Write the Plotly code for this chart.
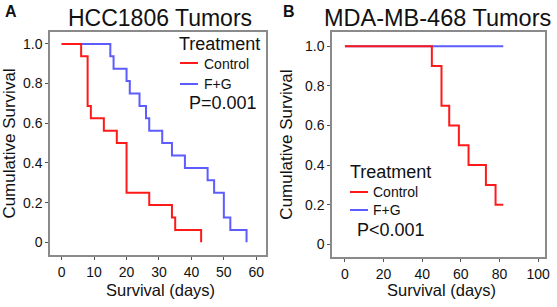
import plotly.graph_objects as go

# Panel A: HCC1806 (n=16 per group)
a_ctrl_days = [0, 6, 8, 9, 13, 17, 20, 27, 34, 35, 43]
a_ctrl_surv = [1.0, 15/16, 11/16, 10/16, 9/16, 8/16, 4/16, 3/16, 2/16, 1/16, 0.0]
a_fg_days = [0, 15, 16, 20, 21, 24, 26, 27, 31, 34, 38, 45, 47, 50, 52, 57]
a_fg_surv = [1.0, 15/16, 14/16, 13/16, 12/16, 11/16, 10/16, 9/16, 8/16, 7/16, 6/16,
             5/16, 4/16, 2/16, 1/16, 0.0]

# Panel B: MDA-MB-468
b_ctrl_days = [0, 45, 50, 54, 59, 64, 73, 78, 82]
b_ctrl_surv = [1.0, 0.9, 0.7, 0.6, 0.5, 0.4, 0.3, 0.2, 0.2]
b_fg_days = [0, 82]
b_fg_surv = [1.0, 1.0]

y_tickvals = [0, 0.2, 0.4, 0.6, 0.8, 1.0]
y_ticktext = ["0", "0.2", "0.4", "0.6", "0.8", "1.0"]
a_xticks = [0, 10, 20, 30, 40, 50, 60]
b_xticks = [0, 20, 40, 60, 80, 100]

RED = "#ff1a1a"
BLUE = "#5c5cff"
W, H = 557, 307
FONT = "Liberation Sans, Arial, sans-serif"

def px(x):
    return x / W

def py(y):
    return 1 - y / H

fig = go.Figure()
fig.add_trace(go.Scatter(x=a_fg_days, y=a_fg_surv, mode="lines", line=dict(color=BLUE, width=2, shape="hv"),
                         xaxis="x", yaxis="y", showlegend=False))
fig.add_trace(go.Scatter(x=a_ctrl_days, y=a_ctrl_surv, mode="lines", line=dict(color=RED, width=2, shape="hv"),
                         xaxis="x", yaxis="y", showlegend=False))
fig.add_trace(go.Scatter(x=b_fg_days, y=b_fg_surv, mode="lines", line=dict(color=BLUE, width=2, shape="hv"),
                         xaxis="x2", yaxis="y2", showlegend=False))
fig.add_trace(go.Scatter(x=b_ctrl_days, y=b_ctrl_surv, mode="lines", line=dict(color=RED, width=2, shape="hv"),
                         xaxis="x2", yaxis="y2", showlegend=False))

axis_common = dict(showgrid=False, zeroline=False, showline=True, linecolor="#8a8a8a", linewidth=1.5,
                   mirror=True, ticks="outside", ticklen=3, tickcolor="#555", tickwidth=1, automargin=False,
                   tickfont=dict(size=14, color="#111", family=FONT))

fig.update_layout(
    width=W, height=H, margin=dict(l=0, r=0, t=0, b=0, pad=0, autoexpand=False),
    paper_bgcolor="white", plot_bgcolor="white",
    font=dict(family=FONT, color="#111"),
    xaxis=dict(domain=[px(50), px(266)], range=[-3.6, 63], tickvals=a_xticks, anchor="y", **axis_common),
    yaxis=dict(domain=[py(255), py(32)], range=[-0.064, 1.06], tickvals=y_tickvals, ticktext=y_ticktext,
               anchor="x", title=dict(text="Cumulative Survival", font=dict(size=17), standoff=8), **axis_common),
    xaxis2=dict(domain=[px(332), px(545)], range=[-6.7, 103.6], tickvals=b_xticks, anchor="y2", **axis_common),
    yaxis2=dict(domain=[py(257), py(32)], range=[-0.064, 1.072], tickvals=y_tickvals, ticktext=y_ticktext,
                anchor="x2", title=dict(text="Cumulative Survival", font=dict(size=17), standoff=8), **axis_common),
)

def ann(text, x, y, size, xanchor="left", bold=False):
    fig.add_annotation(text=f"<b>{text}</b>" if bold else text, x=px(x), y=py(y), xref="paper", yref="paper",
                       showarrow=False, xanchor=xanchor, yanchor="middle",
                       font=dict(size=size, color="#111", family=FONT))

def legline(x0, x1, y, color):
    fig.add_shape(type="line", x0=px(x0), x1=px(x1), y0=py(y), y1=py(y), xref="paper", yref="paper",
                  line=dict(color=color, width=2))

# panel letters and titles
ann("A", 3, 11, 16, bold=True)
ann("B", 281, 11, 16, bold=True)
ann("HCC1806 Tumors", 160, 18, 23, xanchor="center")
ann("MDA-MB-468 Tumors", 437, 18, 23.5, xanchor="center")

# x-axis titles
ann("Survival (days)", 160, 290, 16.5, xanchor="center")
ann("Survival (days)", 441, 290, 16.5, xanchor="center")

# legend A
ann("Treatment", 177, 44, 18)
legline(180, 198, 63, RED)
ann("Control", 202, 64, 14)
legline(180, 198, 84, BLUE)
ann("F+G", 202, 84, 14)
ann("P=0.001", 187, 103, 18)

# legend B
ann("Treatment", 348, 172, 18)
legline(350, 368, 192, RED)
ann("Control", 371, 192, 14)
legline(350, 368, 210, BLUE)
ann("F+G", 371, 210, 14)
ann("P<0.001", 355, 230, 18)

fig.write_html("out.html", config={"displayModeBar": False},
               post_script="document.body.style.margin='0';document.body.style.padding='0';")
